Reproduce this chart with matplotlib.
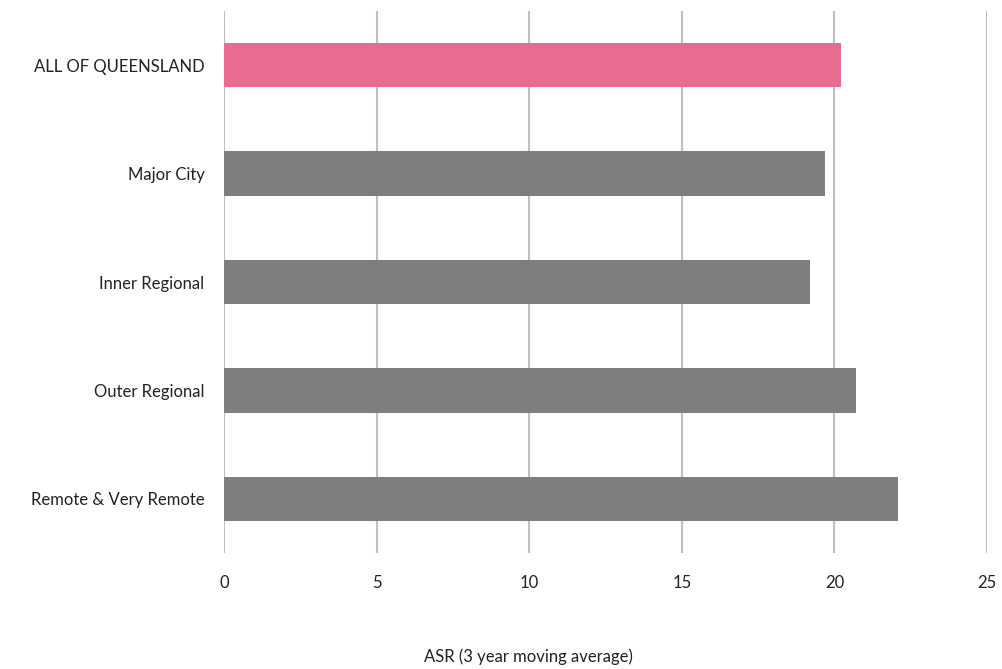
import matplotlib.pyplot as plt

categories = ['ALL OF QUEENSLAND', 'Major City', 'Inner Regional',
              'Outer Regional', 'Remote & Very Remote']
values = [20.2, 19.7, 19.2, 20.7, 22.1]
bar_colors = ['#E76C8F', '#7F7F7F', '#7F7F7F', '#7F7F7F', '#7F7F7F']
xticks = [0, 5, 10, 15, 20, 25]

plt.rcParams['font.family'] = ['Lato', 'DejaVu Sans']

fig = plt.figure(figsize=(10.02, 6.69), dpi=100)
ax = fig.add_axes([224 / 1002, 1 - 553 / 669, (987 - 224) / 1002, 542 / 669])

y = list(range(len(categories)))
ax.barh(y, values, height=0.41, color=bar_colors, zorder=3)
ax.set_ylim(len(categories) - 0.5, -0.5)
ax.set_xlim(0, 25)
ax.set_yticks(y)
ax.set_yticklabels(categories, fontsize=12, color='#222222')
ax.set_xticks(xticks)
ax.set_xticklabels([str(t) for t in xticks], fontsize=12, color='#222222')
ax.tick_params(axis='both', length=0)
ax.tick_params(axis='x', pad=16)
ax.tick_params(axis='y', pad=14)

ax.grid(axis='x', color='#BFBFBF', linewidth=1.5, zorder=0)
for s in ax.spines.values():
    s.set_visible(False)

fig.text(528 / 1002, 1 - 657 / 669, 'ASR (3 year moving average)', fontsize=12,
         color='#222222', ha='center', va='center')

fig.savefig('out.png', dpi=100)
plt.close(fig)
